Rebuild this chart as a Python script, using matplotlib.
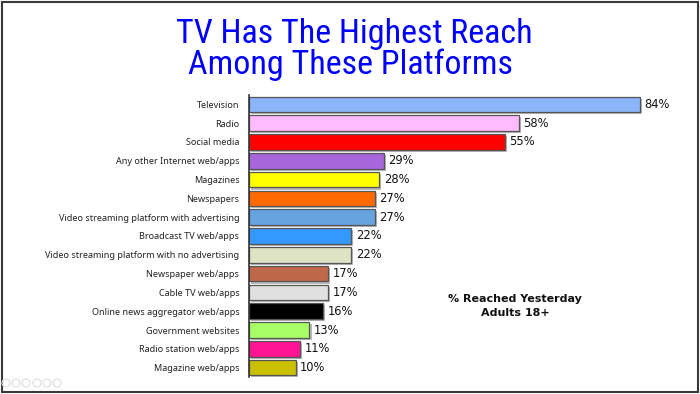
import matplotlib.pyplot as plt
import matplotlib.patheffects as pe
from matplotlib.patches import Rectangle, Ellipse

categories = [
    "Television", "Radio", "Social media", "Any other Internet web/apps",
    "Magazines", "Newspapers", "Video streaming platform with advertising",
    "Broadcast TV web/apps", "Video streaming platform with no advertising",
    "Newspaper web/apps", "Cable TV web/apps", "Online news aggregator web/apps",
    "Government websites", "Radio station web/apps", "Magazine web/apps",
]
values = [84, 58, 55, 29, 28, 27, 27, 22, 22, 17, 17, 16, 13, 11, 10]
colors = [
    "#8CB4F8", "#FFBBFF", "#FF0000", "#A866DD", "#FFFF00", "#FF6A00",
    "#66A3E0", "#3399FF", "#DDE3C3", "#C0694A", "#E0E0E0", "#000000",
    "#A6FF66", "#FF1493", "#C8C000",
]

W, H = 700, 394
fig = plt.figure(figsize=(7, 3.94), dpi=100)
fig.patch.set_facecolor("white")

# slide frame
fig.add_artist(Rectangle((1.5 / W, 2 / H), 696 / W, 390.5 / H, transform=fig.transFigure,
                         fill=False, edgecolor="#3a3a3a", linewidth=1.5))
# faint player icons bottom-left
for cx in [6, 16, 26, 37, 47, 57]:
    fig.add_artist(Ellipse((cx / W, 1 - 383 / H), 8 / W, 8 / H, transform=fig.transFigure,
                           fill=False, edgecolor="#dddddd", linewidth=0.8))

title_font = ["Roboto Condensed", "DejaVu Sans"]
fig.text(354 / W, 1 - 43 / H, "TV Has The Highest Reach", ha="center", va="baseline",
         color="#0000FF", fontsize=24.5, family=title_font)
fig.text(350 / W, 1 - 74 / H, "Among These Platforms", ha="center", va="baseline",
         color="#0000FF", fontsize=24.5, family=title_font)

ax = fig.add_axes([249 / W, 1 - 377 / H, 440 / W, 282 / H])
ypos = list(range(len(categories)))
bars = ax.barh(ypos, values, height=0.84, color=colors, edgecolor="#555555", linewidth=0.9)
for b in bars:
    b.set_path_effects([pe.SimplePatchShadow(offset=(1.5, -1.5), shadow_rgbFace="#888888", alpha=0.6),
                        pe.Normal()])

ax.set_xlim(0, 440 / 4.65)
ax.set_ylim(len(categories) - 0.5, -0.5)
ax.set_yticks(ypos)
ax.set_yticklabels(categories, fontsize=6.5, color="#222222", family=["Noto Sans", "DejaVu Sans"])
ax.tick_params(axis="y", length=0, pad=7)
ax.set_xticks([])
for s in ["top", "right", "bottom"]:
    ax.spines[s].set_visible(False)
ax.spines["left"].set_color("#333333")
ax.spines["left"].set_linewidth(1.2)

for y, v in zip(ypos, values):
    ax.text(v + 1.0, y, f"{v}%", va="center", ha="left", fontsize=8.3, color="#111111")

fig.text(515 / W, 1 - 299 / H, "% Reached Yesterday", ha="center", va="center",
         fontsize=8, fontweight="bold", color="#111111")
fig.text(515 / W, 1 - 313 / H, "Adults 18+", ha="center", va="center",
         fontsize=8, fontweight="bold", color="#111111")

fig.savefig("out.png", dpi=100)
